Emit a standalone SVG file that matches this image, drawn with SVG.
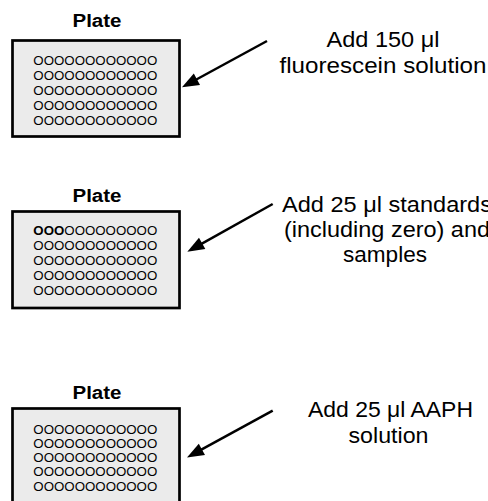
<svg xmlns="http://www.w3.org/2000/svg" width="488" height="501" viewBox="0 0 488 501">
<defs>
<style>
.plate{fill:#ebebeb;stroke:#000;stroke-width:2.7}
.title{font-family:"Liberation Sans",Arial,sans-serif;font-weight:bold;font-size:18px;fill:#000;text-anchor:middle}
.wells{font-family:"Liberation Sans",Arial,sans-serif;font-size:13.5px;fill:#000}
.lbl{font-family:"Liberation Sans",Arial,sans-serif;font-size:22px;fill:#000;text-anchor:middle}
.arrow{stroke:#000;stroke-width:2.5;fill:none;marker-end:url(#ah)}
</style>
<marker id="ah" markerUnits="userSpaceOnUse" markerWidth="20" markerHeight="16" viewBox="0 -8 18 16" refX="9" refY="0" orient="auto">
<path d="M0,-6.5 L17,0 L0,6.5 z" fill="#000"/>
</marker>
</defs>
<rect width="488" height="501" fill="#fff"/>
<g id="plate1">
<text class="title" x="97" y="27.3" textLength="49" lengthAdjust="spacingAndGlyphs">Plate</text>
<rect class="plate" x="12.5" y="40.5" width="167" height="96"/>
<g class="wells">
<text x="33.3" y="64.5" textLength="124" lengthAdjust="spacingAndGlyphs">OOOOOOOOOOOO</text>
<text x="33.3" y="79.5" textLength="124" lengthAdjust="spacingAndGlyphs">OOOOOOOOOOOO</text>
<text x="33.3" y="94.5" textLength="124" lengthAdjust="spacingAndGlyphs">OOOOOOOOOOOO</text>
<text x="33.3" y="109.5" textLength="124" lengthAdjust="spacingAndGlyphs">OOOOOOOOOOOO</text>
<text x="33.3" y="124.5" textLength="124" lengthAdjust="spacingAndGlyphs">OOOOOOOOOOOO</text>
</g>
</g>
<g id="plate2">
<text class="title" x="97" y="201.7" textLength="49" lengthAdjust="spacingAndGlyphs">Plate</text>
<rect class="plate" x="12.5" y="211.5" width="167" height="96.5"/>
<g class="wells">
<text x="33.3" y="235" textLength="124" lengthAdjust="spacingAndGlyphs"><tspan font-weight="bold">OOO</tspan>OOOOOOOOO</text>
<text x="33.3" y="250" textLength="124" lengthAdjust="spacingAndGlyphs">OOOOOOOOOOOO</text>
<text x="33.3" y="265" textLength="124" lengthAdjust="spacingAndGlyphs">OOOOOOOOOOOO</text>
<text x="33.3" y="280" textLength="124" lengthAdjust="spacingAndGlyphs">OOOOOOOOOOOO</text>
<text x="33.3" y="295" textLength="124" lengthAdjust="spacingAndGlyphs">OOOOOOOOOOOO</text>
</g>
</g>
<g id="plate3">
<text class="title" x="97" y="399.3" textLength="49" lengthAdjust="spacingAndGlyphs">Plate</text>
<rect class="plate" x="12.5" y="408.5" width="167" height="100"/>
<g class="wells">
<text x="33.3" y="433.5" textLength="124" lengthAdjust="spacingAndGlyphs">OOOOOOOOOOOO</text>
<text x="33.3" y="447.8" textLength="124" lengthAdjust="spacingAndGlyphs">OOOOOOOOOOOO</text>
<text x="33.3" y="462.1" textLength="124" lengthAdjust="spacingAndGlyphs">OOOOOOOOOOOO</text>
<text x="33.3" y="476.4" textLength="124" lengthAdjust="spacingAndGlyphs">OOOOOOOOOOOO</text>
<text x="33.3" y="490.7" textLength="124" lengthAdjust="spacingAndGlyphs">OOOOOOOOOOOO</text>
</g>
</g>
<g id="label1">
<text class="lbl" x="383" y="47" textLength="113" lengthAdjust="spacingAndGlyphs">Add 150 μl</text>
<text class="lbl" x="383" y="72.5" textLength="207" lengthAdjust="spacingAndGlyphs">fluorescein solution</text>
</g>
<g id="label2">
<text class="lbl" x="387" y="211.7" textLength="210" lengthAdjust="spacingAndGlyphs">Add 25 μl standards</text>
<text class="lbl" x="387" y="237" textLength="206" lengthAdjust="spacingAndGlyphs">(including zero) and</text>
<text class="lbl" x="385" y="262" textLength="84" lengthAdjust="spacingAndGlyphs">samples</text>
</g>
<g id="label3">
<text class="lbl" x="390.5" y="416.7" textLength="165" lengthAdjust="spacingAndGlyphs">Add 25 μl AAPH</text>
<text class="lbl" x="388.5" y="443.3" textLength="80" lengthAdjust="spacingAndGlyphs">solution</text>
</g>
<g id="connectors">
<line class="arrow" x1="267" y1="41" x2="189" y2="83.5"/>
<line class="arrow" x1="272.7" y1="204" x2="194.3" y2="247.8"/>
<line class="arrow" x1="272.7" y1="410.7" x2="194" y2="453.7"/>
</g>
</svg>
